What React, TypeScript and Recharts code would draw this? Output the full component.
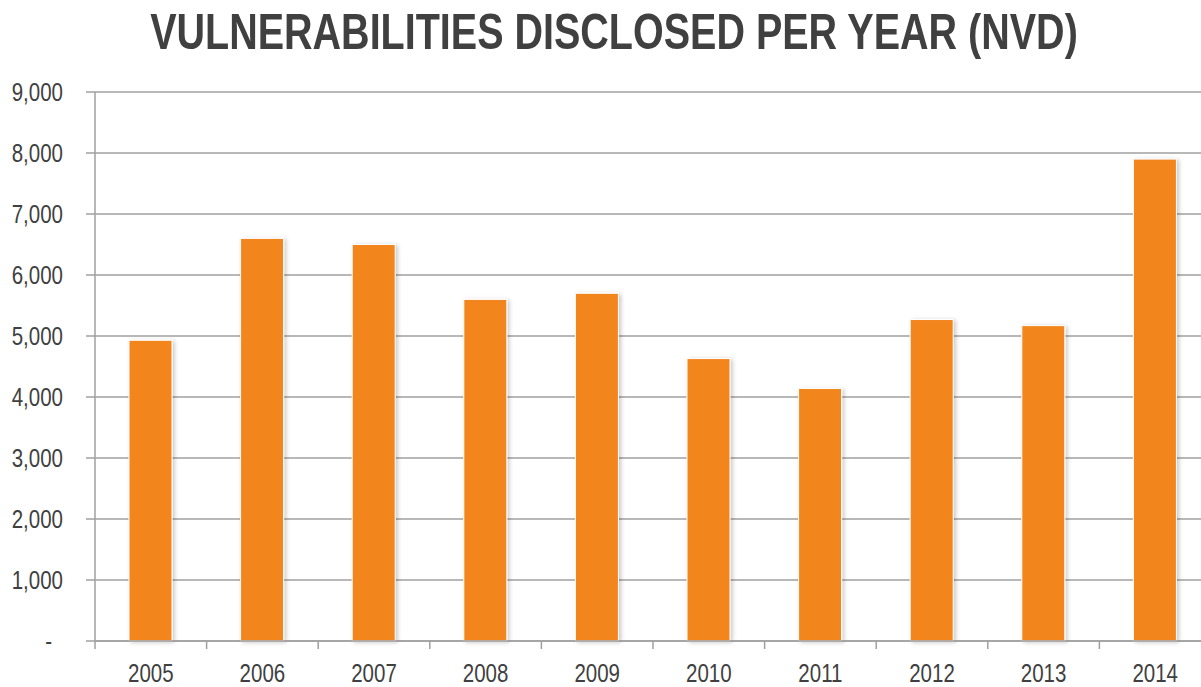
import React from 'react';
import { BarChart, Bar, XAxis, YAxis, CartesianGrid } from 'recharts';

const years = ['2005', '2006', '2007', '2008', '2009', '2010', '2011', '2012', '2013', '2014'];
const disclosed = [4930, 6600, 6500, 5600, 5700, 4630, 4140, 5270, 5170, 7900];
const yTicks = [0, 1000, 2000, 3000, 4000, 5000, 6000, 7000, 8000, 9000];

const data = years.map((year, i) => ({ year, count: disclosed[i] }));

// no Arial Narrow here: Liberation Sans squeezed horizontally is close enough
const FONT = '"Liberation Sans", Arial, sans-serif';
const NARROW = 0.82;
const TITLE_NARROW = 0.79;
const TEXT = '#404040';
const LINE = '#a0a0a0';

const CHART_W = 1211;
const Y_AXIS_W = 95;
const BAND = (CHART_W - Y_AXIS_W) / years.length;

const YTick = (props: any) => {
  const { x, y, payload } = props;
  const v = payload.value as number;
  const label = v === 0 ? '-' : v.toLocaleString('en-US');
  const tx = v === 0 ? x - 11 : x;
  return (
    <text
      transform={`translate(${tx},${y}) scale(${NARROW},1)`}
      dy={9}
      textAnchor="end"
      fill={TEXT}
      fontSize={25}
      fontFamily={FONT}
    >
      {label}
    </text>
  );
};

const XTick = (props: any) => {
  const { x, y, payload } = props;
  return (
    <g>
      <line x1={x - BAND / 2} x2={x - BAND / 2} y1={y} y2={y + 8} stroke={LINE} strokeWidth={1.5} />
      <text
        transform={`translate(${x},${y + 41}) scale(${NARROW},1)`}
        textAnchor="middle"
        fill={TEXT}
        fontSize={25}
        fontFamily={FONT}
      >
        {payload.value}
      </text>
    </g>
  );
};

export default function App() {
  return (
    <div style={{ position: 'fixed', top: 0, left: 0, width: 1201, height: 687, overflow: 'hidden', background: '#fff' }}>
      <svg width={0} height={0} style={{ position: 'absolute' }}>
        <defs>
          <filter id="barShadow" x="-20%" y="-5%" width="150%" height="115%">
            <feDropShadow dx={2} dy={1} stdDeviation={2} floodColor="#000" floodOpacity={0.22} />
          </filter>
        </defs>
      </svg>
      <div
        style={{
          position: 'absolute',
          top: 0,
          left: 0,
          width: 1228,
          textAlign: 'center',
          fontFamily: FONT,
          fontWeight: 'bold',
          fontSize: 50,
          lineHeight: '64px',
          color: TEXT,
          whiteSpace: 'nowrap',
          transform: `scaleX(${TITLE_NARROW})`,
          transformOrigin: '614px 0',
        }}
      >
        VULNERABILITIES DISCLOSED PER YEAR (NVD)
      </div>
      <BarChart
        width={CHART_W}
        height={687}
        data={data}
        margin={{ top: 92, right: 0, bottom: 0, left: 0 }}
        barSize={43}
      >
        <CartesianGrid vertical={false} stroke={LINE} strokeWidth={1.5} />
        <YAxis
          width={Y_AXIS_W}
          domain={[0, 9000]}
          ticks={yTicks}
          interval={0}
          axisLine={{ stroke: LINE, strokeWidth: 1.5 }}
          tickLine={{ stroke: LINE, strokeWidth: 1.5 }}
          tickSize={9}
          tickMargin={23}
          tick={<YTick />}
        />
        <XAxis
          dataKey="year"
          height={46}
          interval={0}
          axisLine={{ stroke: LINE, strokeWidth: 1.5 }}
          tickLine={false}
          tickSize={0}
          tickMargin={0}
          tick={<XTick />}
        />
        <Bar
          dataKey="count"
          fill="#F2851F"
          stroke="#ffffff"
          strokeWidth={1}
          filter="url(#barShadow)"
          isAnimationActive={false}
        />
      </BarChart>
    </div>
  );
}
